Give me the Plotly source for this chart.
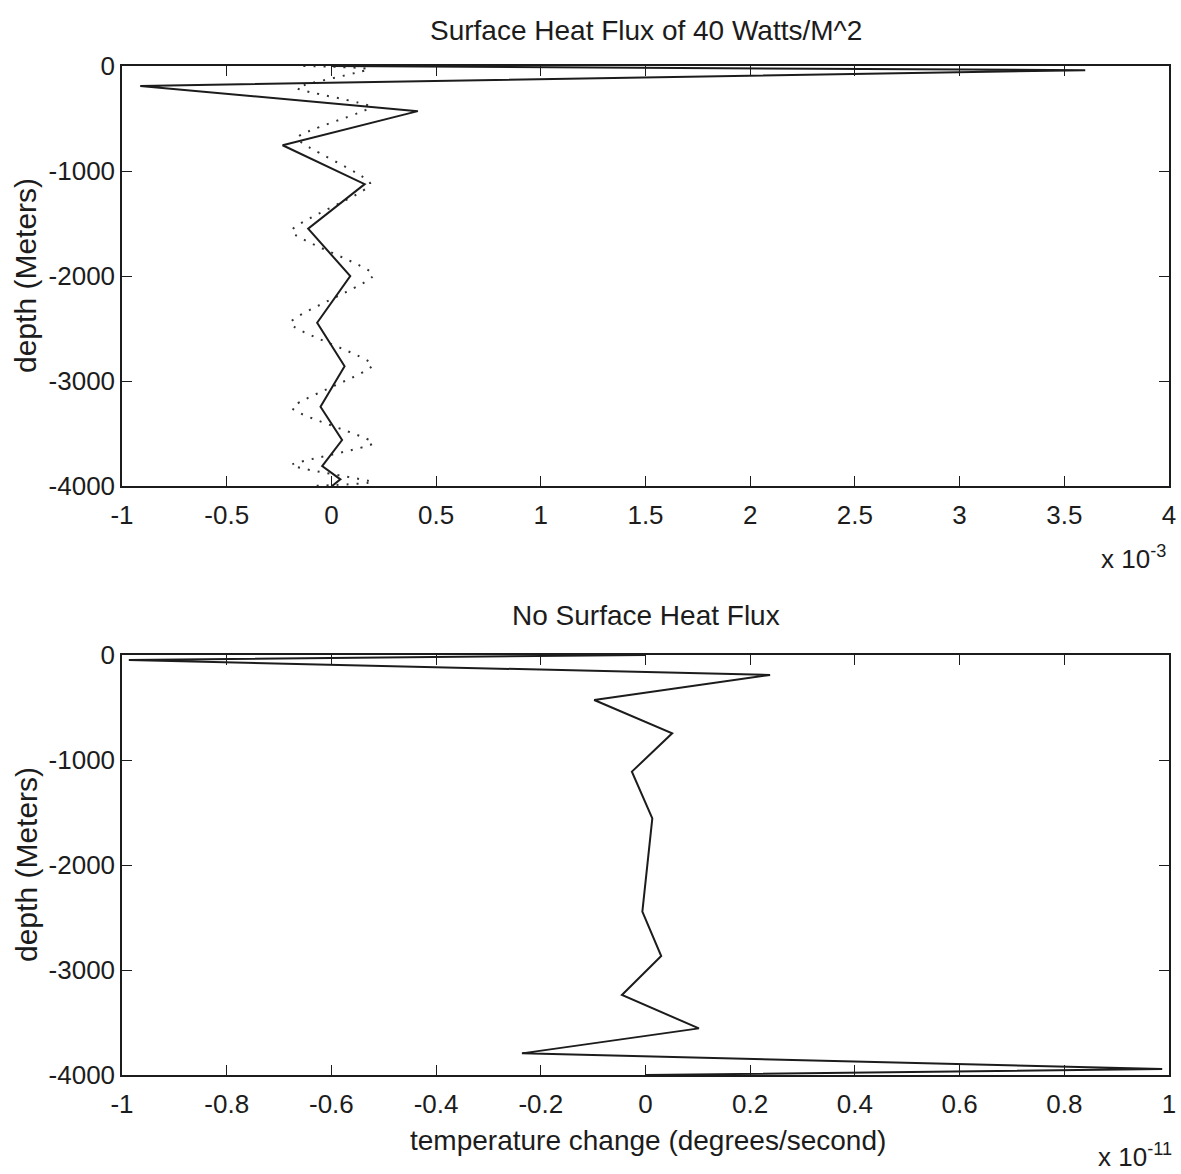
import plotly.graph_objects as go

W, H = 1181, 1174

# ---------------- data (x values shown in axis units: x1e-3 top, x1e-11 bottom)
depth_top = [0, -40, -190, -430, -755, -1125, -1550, -2000, -2445, -2860, -3245, -3562, -3810, -3937, -4000]
flux40_solid = [0, 3.6, -0.913, 0.413, -0.233, 0.159, -0.111, 0.090, -0.068, 0.063, -0.052, 0.051, -0.044, 0.043, 0.003]

depth_dotted = [0, -30, -210, -390, -686, -1124, -1571, -1990, -2448, -2848, -3257, -3590, -3800, -3962, -4000]
flux40_dotted = [-0.134, 0.177, -0.163, 0.186, -0.163, 0.186, -0.190, 0.200, -0.196, 0.196, -0.186, 0.200, -0.190, 0.196, -0.090]

depth_bottom = [0, -48, -190, -429, -746, -1111, -1556, -2000, -2444, -2867, -3238, -3556, -3794, -3943, -4000]
noflux_solid = [0, -0.987, 0.238, -0.098, 0.051, -0.026, 0.013, 0.003, -0.006, 0.030, -0.045, 0.102, -0.236, 0.987, 0.0]

top_xticks = [-1, -0.5, 0, 0.5, 1, 1.5, 2, 2.5, 3, 3.5, 4]
top_xticklabels = ["-1", "-0.5", "0", "0.5", "1", "1.5", "2", "2.5", "3", "3.5", "4"]
bot_xticks = [-1, -0.8, -0.6, -0.4, -0.2, 0, 0.2, 0.4, 0.6, 0.8, 1]
bot_xticklabels = ["-1", "-0.8", "-0.6", "-0.4", "-0.2", "0", "0.2", "0.4", "0.6", "0.8", "1"]
yticks = [0, -1000, -2000, -3000, -4000]
yticklabels = ["0", "-1000", "-2000", "-3000", "-4000"]

# ---------------- layout helpers
def px_x(p):
    return p / W

def px_y(p):
    return 1 - p / H

INK = "#1c1c1c"
FONT = "Liberation Sans, Arial, Helvetica, sans-serif"

fig = go.Figure()

fig.add_trace(go.Scatter(x=flux40_dotted, y=depth_dotted, mode="lines",
                         line=dict(color="#333333", width=2, dash="2px,8px", shape="spline", smoothing=0.5),
                         xaxis="x", yaxis="y", showlegend=False))
fig.add_trace(go.Scatter(x=flux40_solid, y=depth_top, mode="lines",
                         line=dict(color=INK, width=2),
                         xaxis="x", yaxis="y", showlegend=False))
fig.add_trace(go.Scatter(x=noflux_solid, y=depth_bottom, mode="lines",
                         line=dict(color=INK, width=2),
                         xaxis="x2", yaxis="y2", showlegend=False))

xl, xr = px_x(122), px_x(1169)
common_axis = dict(showline=True, linecolor=INK, linewidth=1.5, mirror="ticks",
                   ticks="inside", ticklen=10, tickwidth=1.3, tickcolor=INK,
                   showgrid=False, zeroline=False, automargin=False,
                   tickfont=dict(family=FONT, size=26, color=INK))

fig.update_layout(
    width=W, height=H,
    margin=dict(l=0, r=0, t=0, b=0, pad=0, autoexpand=False),
    paper_bgcolor="white", plot_bgcolor="white",
    xaxis=dict(domain=[xl, xr], range=[-1, 4], anchor="y", ticklabelstandoff=5,
               tickvals=top_xticks, ticktext=top_xticklabels, **common_axis),
    yaxis=dict(domain=[px_y(486), px_y(66)], range=[-4000, 0], anchor="x",
               tickvals=yticks, ticktext=yticklabels, **common_axis),
    xaxis2=dict(domain=[xl, xr], range=[-1, 1], anchor="y2", ticklabelstandoff=5,
                tickvals=bot_xticks, ticktext=bot_xticklabels, **common_axis),
    yaxis2=dict(domain=[px_y(1075), px_y(655)], range=[-4000, 0], anchor="x2",
                tickvals=yticks, ticktext=yticklabels, **common_axis),
)

ann = []
ann.append(dict(text="Surface Heat Flux of 40 Watts/M^2", x=px_x(646), y=px_y(31),
                font=dict(family=FONT, size=28, color=INK)))
ann.append(dict(text="No Surface Heat Flux", x=px_x(646), y=px_y(615),
                font=dict(family=FONT, size=28, color=INK)))
ann.append(dict(text="depth (Meters)", x=px_x(26), y=px_y(276), textangle=-90,
                font=dict(family=FONT, size=30, color=INK)))
ann.append(dict(text="depth (Meters)", x=px_x(26), y=px_y(865), textangle=-90,
                font=dict(family=FONT, size=30, color=INK)))
ann.append(dict(text="temperature change (degrees/second)", x=px_x(648), y=px_y(1140),
                font=dict(family=FONT, size=28, color=INK)))
ann.append(dict(text="x 10<sup>-3</sup>", x=px_x(1133), y=px_y(557),
                font=dict(family=FONT, size=26, color=INK)))
ann.append(dict(text="x 10<sup>-11</sup>", x=px_x(1135), y=px_y(1155),
                font=dict(family=FONT, size=26, color=INK)))

for a in ann:
    a.update(xref="paper", yref="paper", showarrow=False, xanchor="center", yanchor="middle")
fig.update_layout(annotations=ann)

fig.write_html("out.html")
